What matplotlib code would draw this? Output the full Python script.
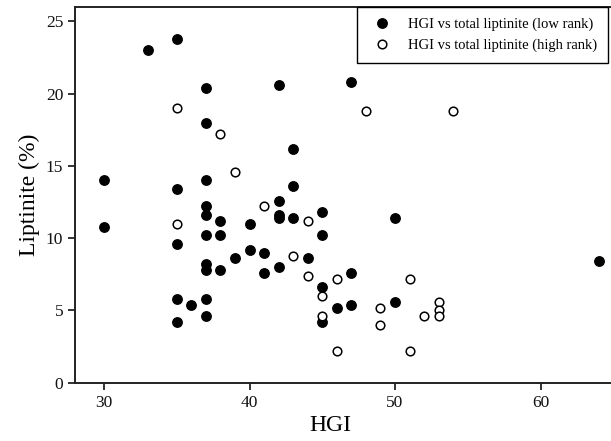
import matplotlib
matplotlib.use("Agg")
import matplotlib.pyplot as plt

plt.rcParams["font.family"] = ["Liberation Serif", "DejaVu Serif"]

# HGI vs total liptinite, low rank coals (filled)
low_hgi = [30, 30, 33, 35, 35, 35, 35, 35, 36, 37, 37, 37, 37, 37, 37, 37, 37, 37, 37,
           38, 38, 38, 39, 40, 40, 41, 41, 42, 42, 42, 42, 42, 43, 43, 43, 44,
           45, 45, 45, 45, 46, 47, 47, 47, 50, 50, 64]
low_lip = [14.0, 10.8, 23.0, 23.8, 13.4, 9.6, 5.8, 4.2, 5.4, 20.4, 18.0, 14.0, 12.2, 11.6,
           10.2, 8.2, 7.8, 5.8, 4.6, 11.2, 10.2, 7.8, 8.6, 11.0, 9.2, 9.0, 7.6, 20.6,
           12.6, 11.6, 11.4, 8.0, 16.2, 13.6, 11.4, 8.6, 11.8, 10.2, 6.6, 4.2, 5.2,
           20.8, 7.6, 5.4, 11.4, 5.6, 8.4]

# HGI vs total liptinite, high rank coals (open)
high_hgi = [35, 35, 38, 39, 41, 43, 44, 44, 45, 45, 46, 46, 48, 49, 49, 51, 51, 52,
            53, 53, 53, 54]
high_lip = [19.0, 11.0, 17.2, 14.6, 12.2, 8.8, 11.2, 7.4, 6.0, 4.6, 7.2, 2.2, 18.8,
            5.2, 4.0, 7.2, 2.2, 4.6, 5.6, 5.0, 4.6, 18.8]

fig = plt.figure(figsize=(6.11, 4.41), dpi=100)
ax = fig.add_axes([0.1227, 0.1322, 0.881, 0.852])

ax.plot(low_hgi, low_lip, "o", ms=6.8, mfc="black", mec="black", ls="none",
        label="HGI vs total liptinite (low rank)")
ax.plot(high_hgi, high_lip, "o", ms=6.2, mfc="white", mec="black", mew=1.1, ls="none",
        label="HGI vs total liptinite (high rank)")

ax.set_xlim(28, 65)
ax.set_ylim(0, 26)
ax.set_xticks([30, 40, 50, 60])
ax.set_yticks([0, 5, 10, 15, 20, 25])

ax.spines["right"].set_visible(False)
for s in ("left", "bottom", "top"):
    ax.spines[s].set_linewidth(1.4)
    ax.spines[s].set_color("#222222")
ax.tick_params(direction="out", length=5, width=1.2, labelsize=12.5, colors="#111111")

ax.set_xlabel("HGI", fontsize=17)
ax.set_ylabel("Liptinite (%)", fontsize=17)
ax.xaxis.set_label_coords(0.474, -0.085)

leg = ax.legend(loc="upper left", bbox_to_anchor=(0.584, 0.984),
                bbox_transform=fig.transFigure, borderaxespad=0, fancybox=False,
                edgecolor="black", framealpha=1, fontsize=10.5, handletextpad=0.85,
                borderpad=0.75, labelspacing=0.5, handlelength=1.9)
leg.get_frame().set_linewidth(1.0)

fig.savefig("out.png", dpi=100)
